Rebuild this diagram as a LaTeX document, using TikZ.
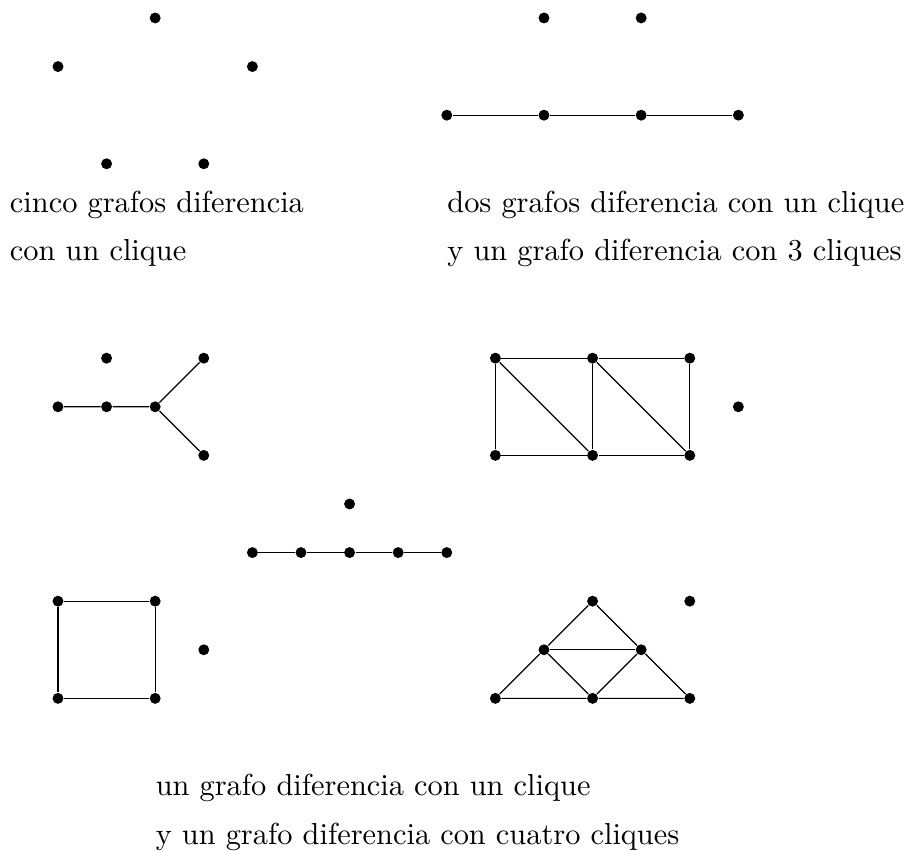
\documentclass[tikz,border=0pt]{standalone}
\begin{document}
\begin{tikzpicture}[x=16pt,y=-16pt,
  vtx/.style={circle,fill=black,inner sep=0pt,minimum size=3.6pt},
  edge/.style={line width=0.4pt},
  lbl/.style={anchor=base west,inner sep=0pt,font=\fontsize{10}{12}\selectfont}]
\useasboundingbox (-1.193,-0.370) rectangle (17.449,17.140);
% top-left: five isolated vertices
\node[vtx] (a1) at (2,0) {};
\node[vtx] (a2) at (0,1) {};
\node[vtx] (a3) at (4,1) {};
\node[vtx] (a4) at (1,3) {};
\node[vtx] (a5) at (3,3) {};
% top-right
\node[vtx] (b1) at (10,0) {};
\node[vtx] (b2) at (12,0) {};
\node[vtx] (b3) at (8,2) {};
\node[vtx] (b4) at (10,2) {};
\node[vtx] (b5) at (12,2) {};
\node[vtx] (b6) at (14,2) {};
\draw[edge] (b3) -- (b4) -- (b5) -- (b6);
% labels top
\node[lbl] (t1) at (-1,4) {cinco grafos diferencia};
\node[lbl] (t2) at (-1,5) {con un clique};
\node[lbl] (t3) at (8,4) {dos grafos diferencia con un clique};
\node[lbl] (t4) at (8,5) {y un grafo diferencia con 3 cliques};
% middle-left
\node[vtx] (c1) at (1,7) {};
\node[vtx] (c2) at (0,8) {};
\node[vtx] (c3) at (1,8) {};
\node[vtx] (c4) at (2,8) {};
\node[vtx] (c5) at (3,7) {};
\node[vtx] (c6) at (3,9) {};
\draw[edge] (c2) -- (c3) -- (c4) -- (c5);
\draw[edge] (c4) -- (c6);
% middle-right
\node[vtx] (d1) at (9,7) {};
\node[vtx] (d2) at (11,7) {};
\node[vtx] (d3) at (13,7) {};
\node[vtx] (d4) at (9,9) {};
\node[vtx] (d5) at (11,9) {};
\node[vtx] (d6) at (13,9) {};
\node[vtx] (d7) at (14,8) {};
\draw[edge] (d1) -- (d2) -- (d3) -- (d6) -- (d5) -- (d4) -- (d1);
\draw[edge] (d2) -- (d5);
\draw[edge] (d1) -- (d5);
\draw[edge] (d2) -- (d6);
% center
\node[vtx] (e0) at (6,10) {};
\node[vtx] (e1) at (4,11) {};
\node[vtx] (e2) at (5,11) {};
\node[vtx] (e3) at (6,11) {};
\node[vtx] (e4) at (7,11) {};
\node[vtx] (e5) at (8,11) {};
\draw[edge] (e1) -- (e2) -- (e3) -- (e4) -- (e5);
% bottom-left
\node[vtx] (f1) at (0,12) {};
\node[vtx] (f2) at (2,12) {};
\node[vtx] (f3) at (2,14) {};
\node[vtx] (f4) at (0,14) {};
\node[vtx] (f5) at (3,13) {};
\draw[edge] (f1) -- (f2) -- (f3) -- (f4) -- (f1);
% bottom-right
\node[vtx] (g1) at (11,12) {};
\node[vtx] (g2) at (10,13) {};
\node[vtx] (g3) at (12,13) {};
\node[vtx] (g4) at (9,14) {};
\node[vtx] (g5) at (11,14) {};
\node[vtx] (g6) at (13,14) {};
\node[vtx] (g7) at (13,12) {};
\draw[edge] (g1) -- (g2) -- (g4) -- (g5) -- (g6) -- (g3) -- (g1);
\draw[edge] (g2) -- (g3);
\draw[edge] (g2) -- (g5) -- (g3);
% labels bottom
\node[lbl] (t5) at (2,16) {un grafo diferencia con un clique};
\node[lbl] (t6) at (2,17) {y un grafo diferencia con cuatro cliques};
\end{tikzpicture}
\end{document}
